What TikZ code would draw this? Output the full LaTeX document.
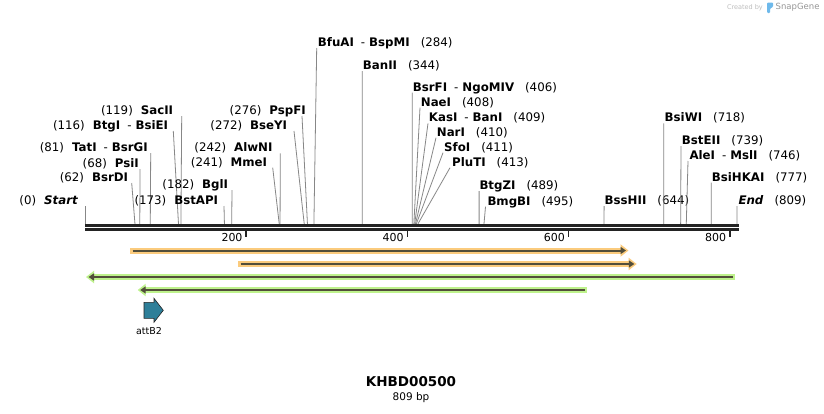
\documentclass[tikz,border=0pt]{standalone}
\usepackage{fontspec}
\setmainfont{DejaVu Sans}
\usetikzlibrary{arrows.meta}
\definecolor{cutgray}{RGB}{135,135,135}
\definecolor{rulerdark}{RGB}{35,35,35}
\definecolor{featline}{RGB}{82,78,58}
\definecolor{featorange}{RGB}{251,203,125}
\definecolor{featgreen}{RGB}{190,242,140}
\definecolor{attteal}{RGB}{46,127,153}
\definecolor{credgray}{RGB}{190,190,190}
\definecolor{snapgray}{RGB}{150,150,150}
\definecolor{logoblue}{RGB}{110,185,235}
% cut site with its label left of the line
\newcommand{\siteleft}[6]{%
	\coordinate (#1-cut) at ({85+#2*0.806},224);
	\coordinate (#1-top) at (#5,{#4+6});
	\node[sitelabel, anchor=east] (#1) at (#3,#4) {(#2)\hspace{8pt}\textbf{#6}};
	\draw[cutline] (#1-cut) -- (#1-top);
}
% cut site with its label right of the line
\newcommand{\siteright}[6]{%
	\coordinate (#1-cut) at ({85+#2*0.806},224);
	\coordinate (#1-top) at (#5,{#4+6});
	\node[sitelabel, anchor=west] (#1) at (#3,#4) {\textbf{#6}\hspace{11pt}(#2)};
	\draw[cutline] (#1-cut) -- (#1-top);
}
\newcommand{\pairdash}{\hspace{7pt}\textmd{-}\hspace{4pt}}

\begin{document}
\begin{tikzpicture}[x=1pt,y=-1pt,
	sitelabel/.style={inner sep=0pt, text height=8.6pt, text depth=0pt, font=\fontsize{11.8}{14}\selectfont},
	cutline/.style={draw=cutgray, line width=0.8pt},
	rulerline/.style={draw=rulerdark, line width=2.4pt},
	glow/.style={line width=6pt},
	core/.style={draw=featline, line width=2pt}]
	
	\useasboundingbox (0,0) rectangle (824,413);
	\fill[white] (0,0) rectangle (824,413);
	
	% credit
	\node[font=\fontsize{6.5}{8}\selectfont, text=credgray, anchor=east, inner sep=0pt] (credit) at (763,7.5) {Created by};
	\fill[logoblue, rounded corners=1pt] (767,2.5) -- (773,2.5) -- (773,7) -- (770,8.5) -- (770,13) -- (767,13) -- cycle;
	\node[font=\fontsize{8.5}{10}\selectfont, text=snapgray, anchor=west, inner sep=0pt] (snapgene) at (775.5,7.5) {SnapGene};
	
	% sites left of their lines
	\siteleft{start}{0}{78.3}{200}{85}{\textit{Start}}
	\siteleft{bsrdi}{62}{128.3}{177}{131.7}{BsrDI}
	\siteleft{psii}{68}{139}{163}{140}{PsiI}
	\siteleft{tati}{81}{148}{147}{150.7}{TatI\pairdash BsrGI}
	\siteleft{btgi}{116}{168.3}{125}{173.3}{BtgI\pairdash BsiEI}
	\siteleft{sacii}{119}{173.3}{110}{181.7}{SacII}
	\siteleft{bstapi}{173}{218.3}{200}{224}{BstAPI}
	\siteleft{bgli}{182}{228.3}{184}{232}{BglI}
	\siteleft{mmei}{241}{267.3}{161.7}{272.7}{MmeI}
	\siteleft{alwni}{242}{272.7}{147.3}{280.3}{AlwNI}
	\siteleft{bseyi}{272}{287.3}{125}{294}{BseYI}
	\siteleft{pspfi}{276}{306}{110}{302}{PspFI}
	
	% sites right of their lines
	\siteright{bfuai}{284}{317.7}{42}{316.7}{BfuAI\pairdash BspMI}
	\siteright{banii}{344}{362.7}{65}{362.3}{BanII}
	\siteright{bsrfi}{406}{412.7}{86.7}{412.3}{BsrFI\pairdash NgoMIV}
	\siteright{naei}{408}{420.7}{101.7}{420}{NaeI}
	\siteright{kasi}{409}{428.7}{117.3}{428}{KasI\pairdash BanI}
	\siteright{nari}{410}{436.7}{131.7}{436}{NarI}
	\siteright{sfoi}{411}{444}{146.7}{443}{SfoI}
	\siteright{pluti}{413}{452}{161.7}{450}{PluTI}
	\siteright{btgzi}{489}{479.3}{185}{479.1}{BtgZI}
	\siteright{bmgbi}{495}{487.3}{200.7}{485.5}{BmgBI}
	\siteright{bsshii}{644}{604.5}{200}{604.1}{BssHII}
	\siteright{bsiwi}{718}{664.5}{117.3}{663.8}{BsiWI}
	\siteright{bsteii}{739}{681.7}{140}{681}{BstEII}
	\siteright{alei}{746}{689.3}{155}{688}{AleI\pairdash MslI}
	\siteright{bsihkai}{777}{711.7}{176.7}{711.3}{BsiHKAI}
	\siteright{end}{809}{738.3}{200}{737}{\textit{End}}
	
	% ruler
	\draw[rulerline] (85,225.5) -- (738.5,225.5);
	\draw[rulerline] (85,229.5) -- (738.5,229.5);
	\foreach \t in {200,400,600,800} {
		\draw[draw=rulerdark, line width=1.6pt] ({85+\t*0.806},230) -- ++(0,7);
		\node[font=\fontsize{11}{13}\selectfont, anchor=east, inner sep=0pt, text height=8pt, text depth=0pt] (t\t) at ({85+\t*0.806-3.5},237) {\t};
	}
	
	% features
	\draw[glow, featorange, -{Triangle[length=8pt,width=12pt]}] (130,250.5) -- (628.5,250.5);
	\draw[core, -{Triangle[length=5.5pt,width=7pt]}] (132.5,250.5) -- (626,250.5);
	\draw[glow, featorange, -{Triangle[length=8pt,width=12pt]}] (238,264) -- (636.7,264);
	\draw[core, -{Triangle[length=5.5pt,width=7pt]}] (240.5,264) -- (634.3,264);
	\draw[glow, featgreen, -{Triangle[length=8pt,width=12pt]}] (735,277) -- (86,277);
	\draw[core, -{Triangle[length=5.5pt,width=7pt]}] (733,277) -- (88.5,277);
	\draw[glow, featgreen, -{Triangle[length=8pt,width=12pt]}] (586.7,290) -- (137.7,290);
	\draw[core, -{Triangle[length=5.5pt,width=7pt]}] (585,290) -- (140.2,290);
	
	\draw[fill=attteal, draw=rulerdark, line width=0.6pt] (144,302.3) -- (154,302.3) -- (154,298.3) -- (163.3,310.3) -- (154,322.3) -- (154,318.3) -- (144,318.3) -- cycle;
	\node[font=\fontsize{9.5}{11}\selectfont, inner sep=0pt] (attb2) at (149,331) {attB2};
	
	% title
	\node[font=\fontsize{13.5}{15}\selectfont\bfseries, inner sep=0pt] (title) at (411,382) {KHBD00500};
	\node[font=\fontsize{10.5}{12}\selectfont, inner sep=0pt] (length) at (411,397.5) {809 bp};

\end{tikzpicture}
\end{document}
